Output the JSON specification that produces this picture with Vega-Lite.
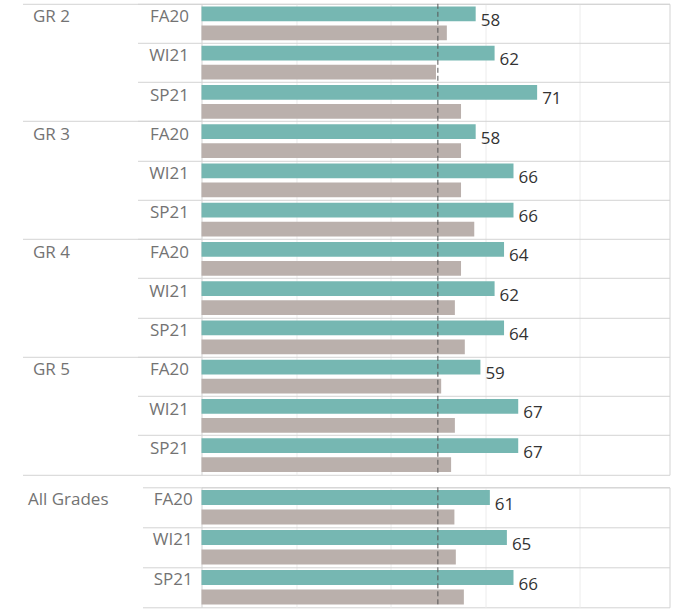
{
  "$schema": "https://vega.github.io/schema/vega-lite/v6.json",
  "padding": {"left": 21.5, "top": 2.8, "right": 0, "bottom": 0},
  "background": "white",
  "config": {
    "view": {"stroke": "#d3d3d3", "strokeWidth": 1},
    "font": "Open Sans"
  },
  "datasets": {
    "grades": [
      {"grade": "GR 2", "term": "FA20", "row": "GR 2|FA20", "measure": "School", "value": 58},
      {"grade": "GR 2", "term": "FA20", "row": "GR 2|FA20", "measure": "Comparison", "value": 51.9},
      {"grade": "GR 2", "term": "WI21", "row": "GR 2|WI21", "measure": "School", "value": 62},
      {"grade": "GR 2", "term": "WI21", "row": "GR 2|WI21", "measure": "Comparison", "value": 49.6},
      {"grade": "GR 2", "term": "SP21", "row": "GR 2|SP21", "measure": "School", "value": 71},
      {"grade": "GR 2", "term": "SP21", "row": "GR 2|SP21", "measure": "Comparison", "value": 54.9},
      {"grade": "GR 3", "term": "FA20", "row": "GR 3|FA20", "measure": "School", "value": 58},
      {"grade": "GR 3", "term": "FA20", "row": "GR 3|FA20", "measure": "Comparison", "value": 54.9},
      {"grade": "GR 3", "term": "WI21", "row": "GR 3|WI21", "measure": "School", "value": 66},
      {"grade": "GR 3", "term": "WI21", "row": "GR 3|WI21", "measure": "Comparison", "value": 54.9},
      {"grade": "GR 3", "term": "SP21", "row": "GR 3|SP21", "measure": "School", "value": 66},
      {"grade": "GR 3", "term": "SP21", "row": "GR 3|SP21", "measure": "Comparison", "value": 57.7},
      {"grade": "GR 4", "term": "FA20", "row": "GR 4|FA20", "measure": "School", "value": 64},
      {"grade": "GR 4", "term": "FA20", "row": "GR 4|FA20", "measure": "Comparison", "value": 54.9},
      {"grade": "GR 4", "term": "WI21", "row": "GR 4|WI21", "measure": "School", "value": 62},
      {"grade": "GR 4", "term": "WI21", "row": "GR 4|WI21", "measure": "Comparison", "value": 53.6},
      {"grade": "GR 4", "term": "SP21", "row": "GR 4|SP21", "measure": "School", "value": 64},
      {"grade": "GR 4", "term": "SP21", "row": "GR 4|SP21", "measure": "Comparison", "value": 55.7},
      {"grade": "GR 5", "term": "FA20", "row": "GR 5|FA20", "measure": "School", "value": 59},
      {"grade": "GR 5", "term": "FA20", "row": "GR 5|FA20", "measure": "Comparison", "value": 50.7},
      {"grade": "GR 5", "term": "WI21", "row": "GR 5|WI21", "measure": "School", "value": 67},
      {"grade": "GR 5", "term": "WI21", "row": "GR 5|WI21", "measure": "Comparison", "value": 53.6},
      {"grade": "GR 5", "term": "SP21", "row": "GR 5|SP21", "measure": "School", "value": 67},
      {"grade": "GR 5", "term": "SP21", "row": "GR 5|SP21", "measure": "Comparison", "value": 52.8}
    ],
    "all": [
      {"grade": "All Grades", "term": "FA20", "row": "All|FA20", "measure": "School", "value": 61},
      {"grade": "All Grades", "term": "FA20", "row": "All|FA20", "measure": "Comparison", "value": 53.5},
      {"grade": "All Grades", "term": "WI21", "row": "All|WI21", "measure": "School", "value": 64.6},
      {"grade": "All Grades", "term": "WI21", "row": "All|WI21", "measure": "Comparison", "value": 53.8},
      {"grade": "All Grades", "term": "SP21", "row": "All|SP21", "measure": "School", "value": 66},
      {"grade": "All Grades", "term": "SP21", "row": "All|SP21", "measure": "Comparison", "value": 55.5}
    ],
    "ref": [{"benchmark": 50}]
  },
  "bounds": "flush",
  "spacing": 12.5,
  "resolve": {"scale": {"x": "independent", "y": "independent", "yOffset": "independent", "color": "independent"}},
  "vconcat": [
    {
      "width": 468,
      "height": 471,
      "resolve": {"scale": {"y": "independent"}, "axis": {"y": "independent"}},
      "layer": [
        {
          "layer": [
            {
              "data": {"name": "grades"},
              "mark": {"type": "bar"},
              "encoding": {
                "y": {"field": "row", "type": "nominal", "sort": null,
                  "scale": {"type": "band", "paddingInner": 0, "paddingOuter": 0},
                  "axis": {"title": null, "orient": "left", "bandPosition": 0, "domain": false,
                    "ticks": true, "tickSize": 64, "tickColor": "#d3d3d3", "tickWidth": 1,
                    "grid": true, "gridColor": "#d3d3d3", "gridWidth": 1,
                    "labelExpr": "split(datum.value, '|')[1]",
                    "labelAlign": "right", "labelBaseline": "top", "labelOffset": -14.2, "labelPadding": -51,
                    "labelFont": "Open Sans", "labelFontSize": 17, "labelColor": "#737373",
                    "labelOverlap": false, "labelBound": false}},
                "yOffset": {"field": "measure", "type": "nominal",
                  "scale": {"domain": ["School", "Comparison"], "paddingInner": 0.226, "paddingOuter": 0.142}},
                "x": {"field": "value", "type": "quantitative",
                  "scale": {"domain": [0, 99], "nice": false, "zero": true},
                  "axis": {"title": null, "values": [20, 40, 60, 80], "grid": true, "gridColor": "#ececec",
                    "labels": false, "ticks": false, "domain": false}},
                "color": {"field": "measure", "type": "nominal",
                  "scale": {"domain": ["School", "Comparison"], "range": ["#76b7b2", "#bab0ac"]}, "legend": null}
              }
            },
            {
              "data": {"name": "ref"},
              "mark": {"type": "rule", "color": "#555555", "strokeDash": [5, 3], "strokeWidth": 1},
              "encoding": {"x": {"field": "benchmark", "type": "quantitative"}}
            },
            {
              "data": {"name": "grades"},
              "transform": [{"filter": "datum.measure == 'School'"}],
              "mark": {"type": "text", "align": "left", "baseline": "middle", "dx": 5, "dy": 7, "fontSize": 17, "font": "Open Sans", "color": "#333333"},
              "encoding": {
                "y": {"field": "row", "type": "nominal", "sort": null},
                "yOffset": {"field": "measure", "type": "nominal"},
                "x": {"field": "value", "type": "quantitative"},
                "text": {"field": "value", "type": "quantitative", "format": ".0f"}
              }
            }
          ]
        },
        {
          "data": {"name": "grades"},
          "mark": {"type": "point", "opacity": 0},
          "encoding": {
            "y": {"field": "grade", "type": "nominal", "sort": null,
              "scale": {"type": "band", "paddingInner": 0, "paddingOuter": 0},
              "axis": {"title": null, "orient": "left", "bandPosition": 0, "domain": false,
                "ticks": true, "tickSize": 179, "tickColor": "#d3d3d3", "tickWidth": 1, "grid": false,
                "labelAlign": "left", "labelBaseline": "top", "labelOffset": -53.5, "labelPadding": -10,
                "labelFont": "Open Sans", "labelFontSize": 17, "labelColor": "#737373",
                "labelOverlap": false, "labelBound": false}}
          }
        },
        {
          "data": {"name": "grades"},
          "mark": {"type": "point", "opacity": 0},
          "encoding": {
            "y": {"field": "grade", "type": "nominal", "sort": null,
              "scale": {"type": "band", "paddingInner": 0, "paddingOuter": 0},
              "axis": {"title": null, "orient": "left", "bandPosition": 1, "domain": false, "values": ["GR 5"],
                "ticks": true, "tickSize": 179, "tickColor": "#d3d3d3", "tickWidth": 1, "grid": false,
                "labels": false}}
          }
        }
      ]
    },
    {
      "width": 468,
      "height": 120,
      "resolve": {"scale": {"y": "independent"}, "axis": {"y": "independent"}},
      "layer": [
        {
          "layer": [
            {
              "data": {"name": "all"},
              "mark": {"type": "bar"},
              "encoding": {
                "y": {"field": "row", "type": "nominal", "sort": null,
                  "scale": {"type": "band", "paddingInner": 0, "paddingOuter": 0},
                  "axis": {"title": null, "orient": "left", "bandPosition": 0, "domain": false,
                    "ticks": true, "tickSize": 59, "tickColor": "#d3d3d3", "tickWidth": 1,
                    "grid": true, "gridColor": "#d3d3d3", "gridWidth": 1,
                    "labelExpr": "split(datum.value, '|')[1]",
                    "labelAlign": "right", "labelBaseline": "top", "labelOffset": -15.6, "labelPadding": -49.7,
                    "labelFont": "Open Sans", "labelFontSize": 17, "labelColor": "#737373",
                    "labelOverlap": false, "labelBound": false}},
                "yOffset": {"field": "measure", "type": "nominal",
                  "scale": {"domain": ["School", "Comparison"], "paddingInner": 0.226, "paddingOuter": 0.142}},
                "x": {"field": "value", "type": "quantitative",
                  "scale": {"domain": [0, 99], "nice": false, "zero": true},
                  "axis": {"title": null, "values": [20, 40, 60, 80], "grid": true, "gridColor": "#ececec",
                    "labels": false, "ticks": false, "domain": false}},
                "color": {"field": "measure", "type": "nominal",
                  "scale": {"domain": ["School", "Comparison"], "range": ["#76b7b2", "#bab0ac"]}, "legend": null}
              }
            },
            {
              "data": {"name": "ref"},
              "mark": {"type": "rule", "color": "#555555", "strokeDash": [5, 3], "strokeWidth": 1},
              "encoding": {"x": {"field": "benchmark", "type": "quantitative"}}
            },
            {
              "data": {"name": "all"},
              "transform": [{"filter": "datum.measure == 'School'"}],
              "mark": {"type": "text", "align": "left", "baseline": "middle", "dx": 5, "dy": 7, "fontSize": 17, "font": "Open Sans", "color": "#333333"},
              "encoding": {
                "y": {"field": "row", "type": "nominal", "sort": null},
                "yOffset": {"field": "measure", "type": "nominal"},
                "x": {"field": "value", "type": "quantitative"},
                "text": {"field": "value", "type": "quantitative", "format": ".0f"}
              }
            }
          ]
        },
        {
          "data": {"name": "all"},
          "mark": {"type": "point", "opacity": 0},
          "encoding": {
            "y": {"field": "grade", "type": "nominal", "sort": null,
              "scale": {"type": "band", "paddingInner": 0, "paddingOuter": 0},
              "axis": {"title": null, "orient": "left", "bandPosition": 1, "domain": false,
                "ticks": true, "tickSize": 59, "tickColor": "#d3d3d3", "tickWidth": 1, "grid": false,
                "labelAlign": "left", "labelBaseline": "top", "labelOffset": -55.6, "labelPadding": 115,
                "labelFont": "Open Sans", "labelFontSize": 17, "labelColor": "#737373",
                "labelOverlap": false, "labelBound": false}}
          }
        }
      ]
    }
  ]
}
